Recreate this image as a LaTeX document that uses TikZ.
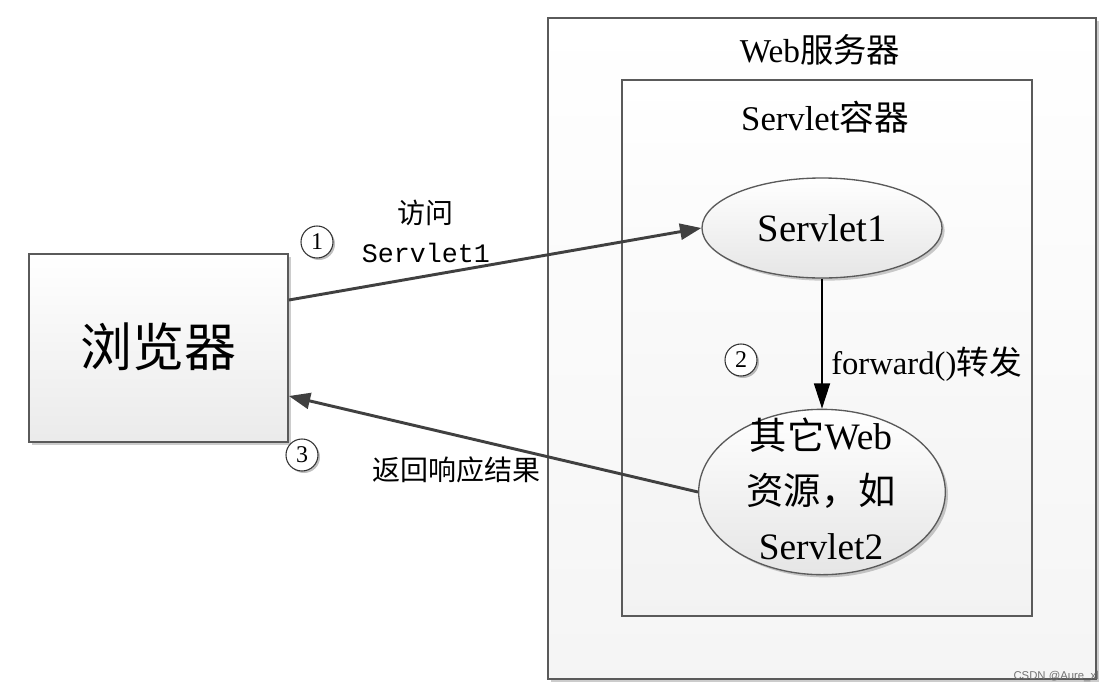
\documentclass[tikz,border=0pt]{standalone}
\usepackage{fontspec}
\setmainfont{Liberation Serif}
\setmonofont{Liberation Mono}
\setsansfont{Liberation Sans}
\newfontfamily\cjk{Noto Sans CJK SC}
\usetikzlibrary{shapes.geometric,arrows.meta,shadows}
\definecolor{bord}{HTML}{5A5A5A}
\definecolor{arr}{HTML}{404040}
\tikzset{
  box/.style={draw=bord, line width=1.3pt, rectangle, inner sep=0pt},
  shade1/.style={top color=white, bottom color=black!8},
  oval/.style={draw=bord, line width=1pt, ellipse, inner sep=0pt, align=center,
     top color=white, bottom color=black!10,
     drop shadow={shadow xshift=2pt, shadow yshift=-2pt, opacity=0.2, fill=black}},
  num/.style={draw=black!80, line width=0.8pt, circle, minimum size=24pt, inner sep=0pt,
     fill=white, font=\fontsize{18pt}{18pt}\selectfont,
     drop shadow={shadow xshift=1.5pt, shadow yshift=-1.5pt, opacity=0.25, fill=black}},
  bigarrow/.style={draw=arr, line width=2.2pt, -{Triangle[length=16pt,width=12pt]}},
  smallarrow/.style={draw=black, line width=1.3pt, -{Triangle[length=19pt,width=12pt]}},
  lbl/.style={inner sep=0pt, align=center},
}
\begin{document}
\begin{tikzpicture}[x=0.75pt, y=-0.75pt]
\useasboundingbox (0,0) rectangle (1113,693);
\fill[white] (0,0) rectangle (1113,693);

% Web server box
\node[box, minimum width=411pt, minimum height=495.75pt,
      top color=white, bottom color=black!4,
      drop shadow={shadow xshift=2pt, shadow yshift=-2pt, opacity=0.2, fill=black}] (web) at (822,348.5) {};
% Servlet container
\node[box, minimum width=307.5pt, minimum height=402pt,
      top color=white, bottom color=black!5] (cont) at (827,348) {};
% Browser
\node[box, minimum width=194.25pt, minimum height=141pt, shade1,
      drop shadow={shadow xshift=2pt, shadow yshift=-2pt, opacity=0.2, fill=black}] (browser) at (158.5,348) {};
\node[lbl, font=\fontsize{39pt}{39pt}\selectfont\cjk] (browsertxt) at (158,347) {浏览器};

% titles
\node[lbl, font=\fontsize{25pt}{25pt}\selectfont] (webtitle) at (820,50) {Web{\cjk 服务器}};
\node[lbl, font=\fontsize{26pt}{26pt}\selectfont] (conttitle) at (825,117) {Servlet{\cjk 容器}};

% ellipses
\node[oval, minimum width=180pt, minimum height=75pt,
      font=\fontsize{29pt}{29pt}\selectfont] (s1) at (822,228) {Servlet1};
\node[oval, minimum width=185pt, minimum height=124pt,
      font=\fontsize{28pt}{41pt}\selectfont] (s2) at (822,492) {};
\node[lbl, font=\fontsize{28pt}{41pt}\selectfont] (s2txt) at (821,489) {{\cjk 其它}Web\\{\cjk 资源，如}\\Servlet2};

% connectors
\draw[bigarrow] ([yshift=36pt]browser.east) -- (s1.west);
\draw[smallarrow] (s1.south) -- (s2.north);
\draw[bigarrow] (s2.west) -- ([yshift=-36pt]browser.east);

% labels
\node[lbl, font=\fontsize{21pt}{21pt}\selectfont\cjk] (l1a) at (425,213) {访问};
\node[lbl, font=\fontsize{20pt}{20pt}\selectfont\ttfamily] (l1b) at (426,253) {Servlet1};
\node[lbl, font=\fontsize{24.5pt}{24.5pt}\selectfont, anchor=west] (l2) at (831,364) {forward(){\cjk 转发}};
\node[lbl, font=\fontsize{21pt}{21pt}\selectfont\cjk] (l3) at (456,470) {返回响应结果};

% circled numbers
\node[num] (n1) at (317,242) {1};
\node[num] (n2) at (741,360) {2};
\node[num] (n3) at (302,455) {3};

% watermark
\node[lbl, font=\fontsize{8.5pt}{8.5pt}\selectfont\sffamily, text=black!55, anchor=east] (wm) at (1099,677) {CSDN @Aure\_xl};
\end{tikzpicture}
\end{document}
